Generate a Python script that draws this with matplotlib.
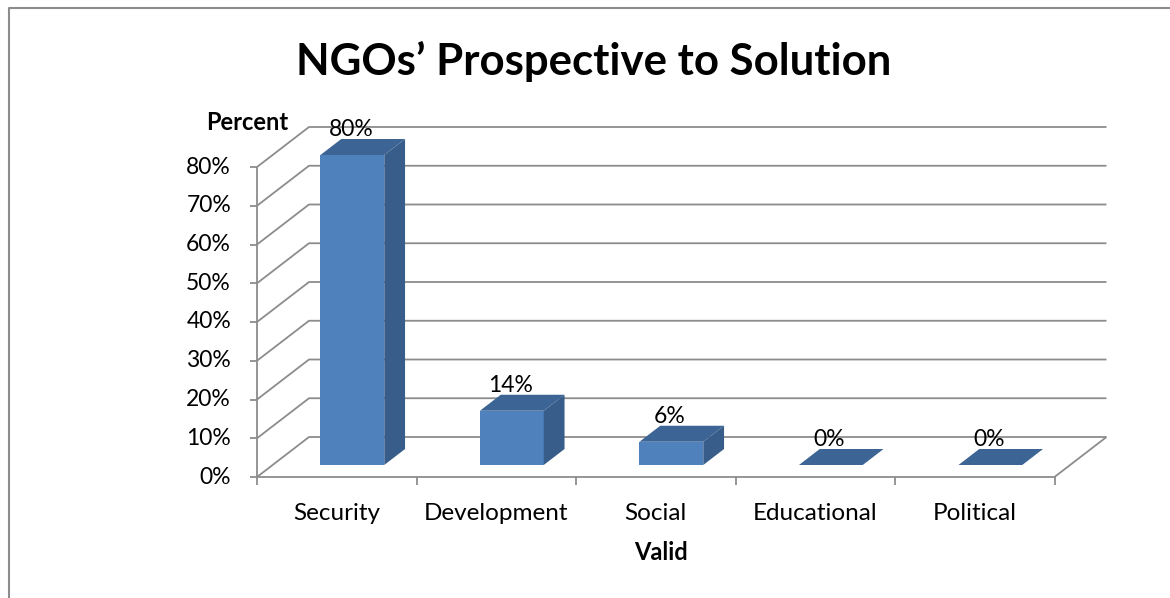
import numpy as np
import matplotlib.pyplot as plt
from matplotlib.patches import Polygon

categories = ["Security", "Development", "Social", "Educational", "Political"]
percent = [80, 14, 6, 0, 0]
yticks = [0, 10, 20, 30, 40, 50, 60, 70, 80]

plt.rcParams['font.family'] = ['Lato', 'DejaVu Sans']

W, H = 1170, 598
fig = plt.figure(figsize=(W / 100, H / 100), dpi=100)
ax = fig.add_axes([0, 0, 1, 1])

# data units: one category per x unit, percent on y
px_x = 159.5      # pixels per category
px_y = 3.875      # pixels per percent
x0, y0 = 257, 477  # front-left floor corner in pixels
ax.set_xlim(-0.5 - x0 / px_x, -0.5 + (W - x0) / px_x)
ax.set_ylim(-(H - y0) / px_y, y0 / px_y)
ax.axis('off')

# depth offset of the back wall
dx = 52 / px_x
dy = 40 / px_y
n = len(categories)
xl, xr = -0.5, n - 0.5
ymax = yticks[-1]

grid = dict(color='#8c8c8c', lw=1.3, solid_capstyle='butt', zorder=1)
for t in yticks:
    ax.plot([xl, xl + dx, xr + dx], [t, t + dy, t + dy], **grid)
ax.plot([xl, xr, xr + dx], [0, 0, dy], **grid)
ax.plot([xl, xl], [0, ymax], **grid)
for t in yticks:
    ax.plot([xl - 7 / px_x, xl], [t, t], **grid)
    ax.text(xl - 26 / px_x, t, f"{t}%", ha='right', va='center', fontsize=16.5)
for i in range(n + 1):
    ax.plot([xl + i, xl + i], [0, -8 / px_y], **grid)

# 3D columns
front = '#4f81bd'
side = '#385d8a'
top = '#3c6494'
bw = 0.4
d0, d1 = 0.3, 0.7
for i, v in enumerate(percent):
    fx0 = i - bw / 2 + d0 * dx
    fx1 = i + bw / 2 + d0 * dx
    fy0 = d0 * dy
    ox = (d1 - d0) * dx
    oy = (d1 - d0) * dy
    if v > 0:
        ax.add_patch(Polygon([(fx0, fy0), (fx1, fy0), (fx1, fy0 + v), (fx0, fy0 + v)],
                             closed=True, fc=front, ec='none', zorder=3))
        ax.add_patch(Polygon([(fx1, fy0), (fx1 + ox, fy0 + oy), (fx1 + ox, fy0 + v + oy), (fx1, fy0 + v)],
                             closed=True, fc=side, ec='none', zorder=3))
    ax.add_patch(Polygon([(fx0, fy0 + v), (fx1, fy0 + v), (fx1 + ox, fy0 + v + oy), (fx0 + ox, fy0 + v + oy)],
                         closed=True, fc=top, ec='none', zorder=3))
    ax.text(i + 0.09, v + 9.6, f"{v}%", ha='center', va='center', fontsize=16.5, zorder=4)
    ax.text(i, -36 / px_y, categories[i], ha='center', va='center', fontsize=17.5)

ax.text(xl - 10 / px_x, 91.5, "Percent", ha='center', va='center', fontsize=17, fontweight='bold')
ax.text((xl + xr) / 2 + 0.03, -75 / px_y, "Valid", ha='center', va='center', fontsize=17, fontweight='bold')
fig.text(594 / W, 1 - 61 / H, "NGOs\u2019 Prospective to Solution", ha='center', va='center',
         fontsize=31.5, fontweight='bold')

# chart frame
fig.add_artist(plt.Line2D([9 / W, 9 / W, 1], [0, 1 - 8 / H, 1 - 8 / H], color='#8c8c8c', lw=1.5))

fig.savefig('out.png', dpi=100)
